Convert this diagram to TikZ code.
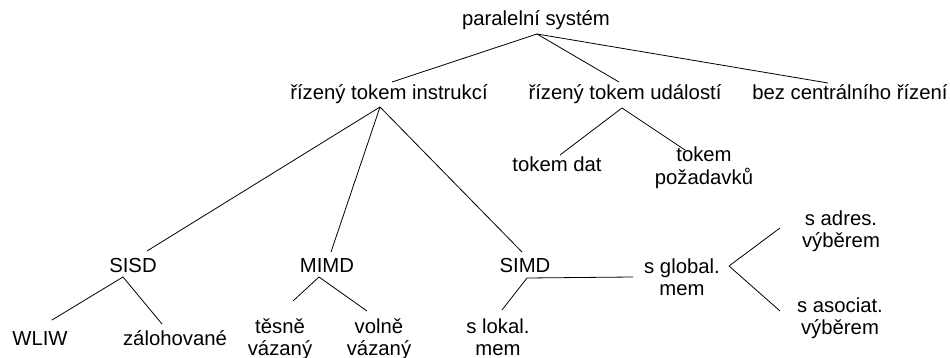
\documentclass[tikz,border=0pt]{standalone}
\usepackage{fontspec}
\setmainfont{Liberation Sans}
\usetikzlibrary{calc}
\begin{document}
\begin{tikzpicture}[x=1pt,y=-1pt,
  lbl/.style={anchor=base,inner sep=0pt,align=center,
              font=\fontsize{20.3}{22.5}\selectfont},
  edge/.style={line width=0.8pt,draw=black}]
\useasboundingbox (0,0) rectangle (950,358);

% labels, placed by the baseline of their last line
\node[lbl] (root)    at (536,26)    {paralelní systém};
\node[lbl] (instr)   at (389,100)   {řízený tokem instrukcí};
\node[lbl] (udal)    at (625,100)   {řízený tokem událostí};
\node[lbl] (bez)     at (850,100)   {bez centrálního řízení};
\node[lbl] (tdat)    at (557,172)   {tokem dat};
\node[lbl] (tpoz)    at (704,184.5) {tokem\\požadavků};
\node[lbl] (sisd)    at (133,272)   {SISD};
\node[lbl] (mimd)    at (327,272)   {MIMD};
\node[lbl] (simd)    at (525,272)   {SIMD};
\node[lbl] (wliw)    at (40,345)    {WLIW};
\node[lbl] (zaloh)   at (175,345)   {zálohované};
\node[lbl] (tesne)   at (280,355.5) {těsně\\vázaný};
\node[lbl] (volne)   at (379,355.5) {volně\\vázaný};
\node[lbl] (slokal)  at (498,355.5) {s lokal.\\mem};
\node[lbl] (sglobal) at (682,295.5) {s global.\\mem};
\node[lbl] (sadres)  at (841,247.5) {s adres.\\výběrem};
\node[lbl] (sasoc)   at (840,334.5) {s asociat.\\výběrem};

% connectors
\coordinate (rootJ)  at ($(root.base)+(1,8)$);
\draw[edge] (rootJ) -- ($(instr.base)+(3,-18)$);
\draw[edge] (rootJ) -- ($(udal.base)+(-6,-18)$);
\draw[edge] (rootJ) -- ($(bez.base)+(-22,-17)$);

\coordinate (instrJ) at ($(instr.base)+(-9,7)$);
\draw[edge] (instrJ) -- ($(sisd.base)+(14,-21)$);
\draw[edge] (instrJ) -- ($(mimd.base)+(4,-20)$);
\draw[edge] (instrJ) -- ($(simd.base)+(-3,-20)$);

\coordinate (udalJ) at ($(udal.base)+(-3,8)$);
\draw[edge] (udalJ) -- ($(tdat.base)+(3,-17)$);
\draw[edge] (udalJ) -- ($(tpoz.base)+(-19,-34.5)$);

\coordinate (sisdJ) at ($(sisd.base)+(-10,5)$);
\draw[edge] (sisdJ) -- ($(wliw.base)+(12,-25)$);
\draw[edge] (sisdJ) -- ($(zaloh.base)+(-13,-21)$);

\coordinate (mimdJ) at ($(mimd.base)+(-8,5)$);
\draw[edge] (mimdJ) -- ($(tesne.base)+(13,-54.5)$);
\draw[edge] (mimdJ) -- ($(volne.base)+(-12,-44.5)$);

\coordinate (simdJ) at ($(simd.base)+(2,6)$);
\draw[edge] (simdJ) -- ($(slokal.base)+(4,-45.5)$);
\draw[edge] (simdJ) -- ($(sglobal.base)+(-49,-18.5)$);

\coordinate (sglobalJ) at ($(sglobal.base)+(47,-29.5)$);
\draw[edge] (sglobalJ) -- ($(sadres.base)+(-61,-19.5)$);
\draw[edge] (sglobalJ) -- ($(sasoc.base)+(-60,-23.5)$);
\end{tikzpicture}
\end{document}
